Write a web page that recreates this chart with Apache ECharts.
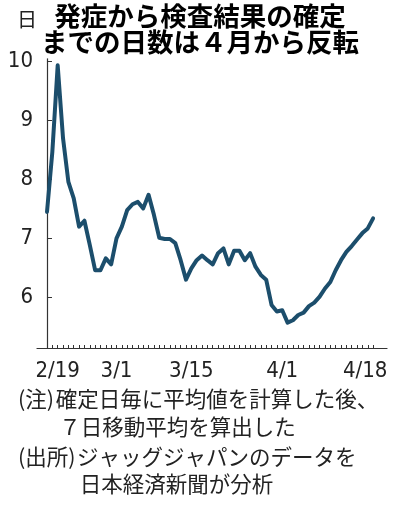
<!DOCTYPE html>
<html>
<head>
<meta charset="utf-8">
<script src="https://cdn.jsdelivr.net/npm/echarts@6/dist/echarts.min.js"></script>
<style>
html,body{margin:0;padding:0;background:#fff;}
#chart{width:400px;height:505px;}
</style>
</head>
<body>
<div id="chart"></div>
<script>
// ---- data ----
const dates = [
  '2/17','2/18','2/19','2/20','2/21','2/22','2/23','2/24','2/25','2/26','2/27','2/28','2/29',
  '3/1','3/2','3/3','3/4','3/5','3/6','3/7','3/8','3/9','3/10','3/11','3/12','3/13','3/14','3/15',
  '3/16','3/17','3/18','3/19','3/20','3/21','3/22','3/23','3/24','3/25','3/26','3/27','3/28','3/29','3/30','3/31',
  '4/1','4/2','4/3','4/4','4/5','4/6','4/7','4/8','4/9','4/10','4/11','4/12','4/13','4/14','4/15','4/16','4/17','4/18'
];
const days = [
  7.45, 8.47, 9.94, 8.70, 7.96, 7.68, 7.20, 7.30, 6.89, 6.46, 6.46, 6.66, 6.56,
  7.00, 7.20, 7.48, 7.58, 7.62, 7.51, 7.74, 7.40, 7.01, 6.99, 6.99, 6.92, 6.63, 6.30, 6.49,
  6.63, 6.71, 6.63, 6.56, 6.75, 6.83, 6.56, 6.79, 6.79, 6.63, 6.75, 6.52, 6.38, 6.30, 5.87, 5.76,
  5.78, 5.57, 5.61, 5.70, 5.74, 5.85, 5.91, 6.01, 6.15, 6.26, 6.46, 6.63, 6.77, 6.87, 6.98, 7.09, 7.17, 7.34
];
const xTickLabels = ['2/19','3/1','3/15','4/1','4/18'];
const yTickValues = [6, 7, 8, 9, 10];
const titleLines = ['発症から検査結果の確定', 'までの日数は４月から反転'];
const unitLabel = '日';
const notePrefixes = ['(注)', '(出所)'];
const notes = [
  '確定日毎に平均値を計算した後、',
  '７日移動平均を算出した',
  'ジャッグジャパンのデータを',
  '日本経済新聞が分析'
];

// ---- chart ----
const numFont = "'Liberation Sans Narrow','DejaVu Sans Condensed',sans-serif";
const cjkFont = "'Noto Sans CJK JP','Noto Sans',sans-serif";
const chart = echarts.init(document.getElementById('chart'), null, {renderer: 'canvas'});

const seriesData = days.map((v, i) => [i, v]);
const tickIdx = dates.map((d, i) => i);
const labelIdx = xTickLabels.map(l => dates.indexOf(l));
const lastLabelIdx = labelIdx[labelIdx.length - 1];
const noteFont = "21.5px " + cjkFont;

chart.setOption({
  animation: false,
  backgroundColor: '#fff',
  grid: {left: 37, top: 58.8, width: 350, height: 289.2, containLabel: false},
  xAxis: {
    type: 'value',
    min: -1.87,
    max: 63.6,
    axisLine: {show: true, lineStyle: {color: '#333', width: 1.2}},
    axisTick: {show: true, inside: true, length: 3, customValues: tickIdx, lineStyle: {color: '#333', width: 1}},
    splitLine: {show: false},
    axisLabel: {
      customValues: labelIdx,
      margin: 12,
      fontFamily: numFont,
      fontSize: 22,
      color: '#222',
      formatter: v => v === lastLabelIdx ? '{r|' + dates[v] + '}' : dates[v],
      rich: {r: {fontFamily: numFont, fontSize: 22, color: '#222', padding: [0, 16, 0, 0]}}
    }
  },
  yAxis: {
    type: 'value',
    min: 5.139,
    max: 10.05,
    axisLine: {show: true, lineStyle: {color: '#333', width: 1.2}},
    axisTick: {show: true, inside: true, length: 5, customValues: yTickValues, lineStyle: {color: '#333', width: 1}},
    splitLine: {show: false},
    axisLabel: {
      customValues: yTickValues,
      margin: 4,
      fontFamily: numFont,
      fontSize: 22,
      color: '#222'
    }
  },
  series: [{
    type: 'line',
    data: seriesData,
    showSymbol: false,
    symbol: 'none',
    lineStyle: {color: '#1c4e6c', width: 4, join: 'round', cap: 'round'},
    z: 3
  }],
  graphic: [
    {type: 'text', left: 'center', top: 3, style: {text: titleLines[0], font: "bold 26.5px " + cjkFont, fill: '#000'}},
    {type: 'text', left: 'center', top: 29, style: {text: titleLines[1], font: "bold 26.5px " + cjkFont, fill: '#000'}},
    {type: 'text', left: 17, top: 9, style: {text: unitLabel, font: "20px " + cjkFont, fill: '#222'}},
    {type: 'text', left: 18, top: 388, style: {text: notePrefixes[0], font: noteFont, fill: '#222'}},
    {type: 'text', left: 55.7, top: 388, style: {text: notes[0], font: noteFont, fill: '#222'}},
    {type: 'text', left: 59.3, top: 416, style: {text: notes[1], font: noteFont, fill: '#222'}},
    {type: 'text', left: 18, top: 446, style: {text: notePrefixes[1], font: noteFont, fill: '#222'}},
    {type: 'text', left: 77, top: 446, style: {text: notes[2], font: noteFont, fill: '#222'}},
    {type: 'text', left: 79.8, top: 473, style: {text: notes[3], font: noteFont, fill: '#222'}}
  ]
});
</script>
</body>
</html>
